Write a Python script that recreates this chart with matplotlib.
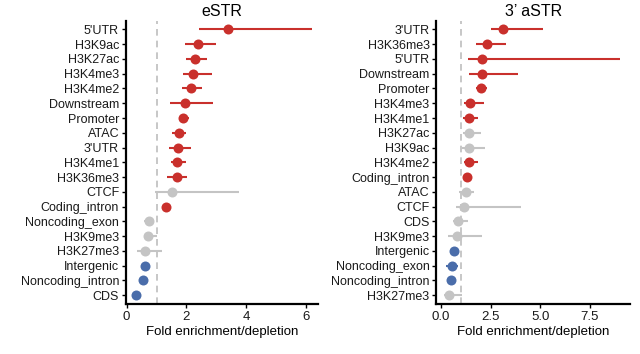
import matplotlib
matplotlib.use("Agg")
import matplotlib.pyplot as plt

plt.rcParams['font.family'] = ['Liberation Sans', 'DejaVu Sans']

# eSTR panel (top to bottom)
estr_labels = ["5'UTR", "H3K9ac", "H3K27ac", "H3K4me3", "H3K4me2", "Downstream",
               "Promoter", "ATAC", "3'UTR", "H3K4me1", "H3K36me3", "CTCF",
               "Coding_intron", "Noncoding_exon", "H3K9me3", "H3K27me3",
               "Intergenic", "Noncoding_intron", "CDS"]
estr_fold = [3.38, 2.39, 2.28, 2.23, 2.14, 1.95, 1.89, 1.74, 1.72, 1.69, 1.67, 1.50,
             1.32, 0.73, 0.70, 0.62, 0.60, 0.56, 0.31]
estr_lo = [2.42, 1.95, 1.97, 1.89, 1.86, 1.46, 1.74, 1.52, 1.41, 1.49, 1.35, 0.96,
           1.22, 0.57, 0.57, 0.36, 0.52, 0.48, 0.24]
estr_hi = [6.19, 3.00, 2.70, 2.84, 2.52, 2.89, 2.08, 2.00, 2.14, 1.98, 2.03, 3.77,
           1.42, 0.93, 1.00, 1.18, 0.68, 0.64, 0.38]
estr_sig = ["up"] * 11 + ["ns", "up", "ns", "ns", "ns", "down", "down", "down"]

# 3' aSTR panel (top to bottom)
astr_labels = ["3'UTR", "H3K36me3", "5'UTR", "Downstream", "Promoter", "H3K4me3",
               "H3K4me1", "H3K27ac", "H3K9ac", "H3K4me2", "Coding_intron", "ATAC",
               "CTCF", "CDS", "H3K9me3", "Intergenic", "Noncoding_exon",
               "Noncoding_intron", "H3K27me3"]
astr_fold = [3.15, 2.33, 2.08, 2.08, 2.03, 1.49, 1.41, 1.41, 1.41, 1.41, 1.29, 1.24,
             1.16, 0.84, 0.79, 0.67, 0.54, 0.50, 0.40]
astr_lo = [2.50, 1.76, 1.34, 1.41, 1.79, 1.16, 1.12, 1.12, 1.08, 1.17, 1.20, 0.92,
           0.74, 0.59, 0.37, 0.58, 0.28, 0.42, 0.17]
astr_hi = [5.12, 3.27, 9.00, 3.89, 2.30, 2.18, 1.87, 2.01, 2.21, 1.87, 1.38, 1.66,
           4.05, 1.34, 2.08, 0.76, 0.87, 0.58, 1.04]
astr_sig = ["up"] * 7 + ["ns", "ns", "up", "up", "ns", "ns", "ns", "ns",
                         "down", "down", "down", "ns"]

colors = {"up": "#C9302C", "ns": "#C4C4C4", "down": "#4A6DAA"}

fig = plt.figure(figsize=(6.4, 3.54), dpi=100)
ax1 = fig.add_axes([0.197, 0.141, 0.300, 0.801])
ax2 = fig.add_axes([0.682, 0.141, 0.302, 0.801])


def draw(ax, labels, fold, lo, hi, sig, title, xlim, xticks, xticklabels):
    n = len(labels)
    ys = list(range(n - 1, -1, -1))
    ax.axvline(1, color='#BDBDBD', linestyle=(0, (4, 3)), linewidth=1.2, zorder=1)
    for y, f, l, h, s in zip(ys, fold, lo, hi, sig):
        c = colors[s]
        ax.plot([l, h], [y, y], color=c, linewidth=1.5, solid_capstyle='butt', zorder=2)
        ax.plot(f, y, 'o', color=c, markersize=7.2, markeredgewidth=0, zorder=3)
    ax.set_yticks(ys)
    ax.set_yticklabels(labels, fontsize=9, color='#1a1a1a')
    ax.set_ylim(-0.6, n - 0.4)
    ax.set_xlim(*xlim)
    ax.set_xticks(xticks)
    ax.set_xticklabels(xticklabels, fontsize=9.5, color='#1a1a1a')
    ax.set_xlabel('Fold enrichment/depletion', fontsize=9.5, labelpad=2)
    ax.set_title(title, fontsize=11.5, pad=3)
    for sp in ['top', 'right']:
        ax.spines[sp].set_visible(False)
    for sp in ['left', 'bottom']:
        ax.spines[sp].set_linewidth(1.6)
    ax.tick_params(axis='both', length=3, width=1, pad=2)


draw(ax1, estr_labels, estr_fold, estr_lo, estr_hi, estr_sig, 'eSTR',
     (-0.02, 6.4), [0, 2, 4, 6], ['0', '2', '4', '6'])
draw(ax2, astr_labels, astr_fold, astr_lo, astr_hi, astr_sig, '3\u2019 aSTR',
     (-0.22, 9.5), [0, 2.5, 5, 7.5], ['0.0', '2.5', '5.0', '7.5'])

fig.savefig('out.png', dpi=100)
